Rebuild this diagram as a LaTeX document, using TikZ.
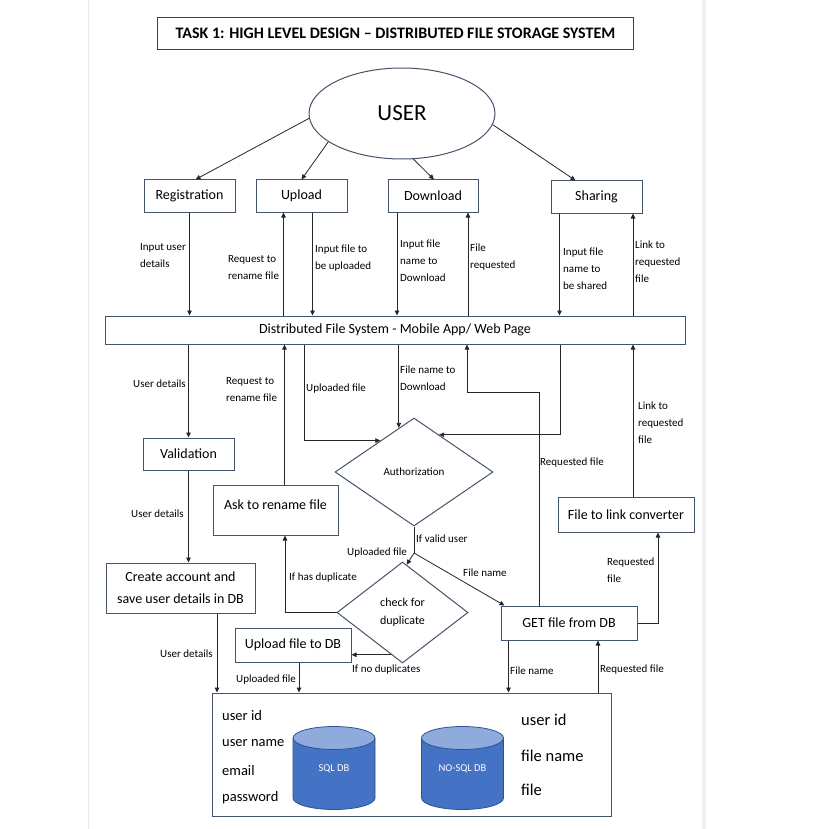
\documentclass[tikz,border=0pt]{standalone}
\usepackage{fontspec}
\setmainfont{Carlito}
\usetikzlibrary{shapes.geometric,arrows.meta}
\definecolor{boxline}{HTML}{44546A}
\definecolor{titleline}{HTML}{404040}
\definecolor{cylbody}{HTML}{4472C4}
\definecolor{cyltop}{HTML}{8FAADC}
\definecolor{cylline}{HTML}{2F528F}
\tikzset{
  box/.style={draw=boxline, line width=1pt, fill=white, align=center, inner sep=2pt,
    font=\fontsize{14}{22}\selectfont},
  lbl/.style={anchor=west, inner sep=0pt, align=left, font=\fontsize{11}{17}\selectfont},
  ln/.style={draw=black!85, line width=0.8pt},
  arr/.style={ln, -{Triangle[length=5pt,width=4.5pt]}},
}
\begin{document}
\begin{tikzpicture}[x=1pt,y=-1pt]
	\useasboundingbox (0,0) rectangle (823,829) ;
	\fill[white] (0,0) rectangle (823,829) ;
	\draw[black!8,line width=0.8pt] (88,0) -- (88,829) ;
	\fill[black!6] (702,0) rectangle (706,829) ;
	% title and user
	\node[draw=titleline, line width=0.8pt, minimum width=476, minimum height=32,
	  font=\fontsize{16}{19}\selectfont\bfseries] (title) at (395.5,33) {TASK 1: HIGH LEVEL DESIGN -- DISTRIBUTED FILE STORAGE SYSTEM} ;
	\node[ellipse, draw=boxline, line width=1pt, minimum width=186, minimum height=91,
	  font=\fontsize{23}{26}\selectfont] (user) at (402,113.5) {USER} ;
	% first row
	\node[box, minimum width=91, minimum height=32] (reg) at (189.5,196) {Registration} ;
	\node[box, minimum width=91, minimum height=32] (upl) at (301.5,196) {Upload} ;
	\node[box, minimum width=90, minimum height=32] (dwn) at (433,196) {Download} ;
	\node[box, minimum width=91, minimum height=32] (shr) at (596.5,197) {Sharing} ;
	\node[box, minimum width=580, minimum height=28] (dfs) at (395,330) {Distributed File System - Mobile App/ Web Page} ;
	% processing
	\node[box, minimum width=91, minimum height=32] (val) at (188.5,454) {Validation} ;
	\node[box, minimum width=125, inner ysep=0pt, text height=24.5pt, text depth=25.5pt] (ask) at (275.5,510) {Ask to rename file} ;
	\node[diamond, draw=boxline, line width=1pt, fill=white, minimum width=158, minimum height=108,
	  inner sep=0pt, font=\fontsize{11}{14}\selectfont] (auth) at (414,472) {Authorization} ;
	\node[box, minimum width=136, minimum height=35] (conv) at (626,514.5) {File to link converter} ;
	\node[box, minimum width=149, minimum height=50] (create) at (180.5,588) {Create account and\\save user details in DB} ;
	\node[diamond, draw=boxline, line width=1pt, fill=white, minimum width=131, minimum height=101,
	  inner sep=0pt, align=center, font=\fontsize{12}{18}\selectfont] (chk) at (402.5,612.5) {check for\\duplicate} ;
	\node[box, minimum width=116, minimum height=34] (upldb) at (293,645) {Upload file to DB} ;
	\node[box, minimum width=136, minimum height=34] (get) at (569,623) {GET file from DB} ;
	% storage
	\node[draw=boxline, line width=1pt, minimum width=399, minimum height=123] (db) at (411.5,754.5) {} ;
	\fill[cylbody] (293,738) -- (293,798) arc[start angle=180,end angle=360,x radius=41pt,y radius=11.5pt] -- (375,738) -- cycle ;
	\draw[cylline,line width=0.8pt] (293,738) -- (293,798) arc[start angle=180,end angle=360,x radius=41pt,y radius=11.5pt] -- (375,738) ;
	\filldraw[fill=cyltop,draw=cylline,line width=0.8pt] (334,738) ellipse[x radius=41pt,y radius=11.5pt] ;
	\fill[cylbody] (421.5,738) -- (421.5,798) arc[start angle=180,end angle=360,x radius=41pt,y radius=11.5pt] -- (503.5,738) -- cycle ;
	\draw[cylline,line width=0.8pt] (421.5,738) -- (421.5,798) arc[start angle=180,end angle=360,x radius=41pt,y radius=11.5pt] -- (503.5,738) ;
	\filldraw[fill=cyltop,draw=cylline,line width=0.8pt] (462.5,738) ellipse[x radius=41pt,y radius=11.5pt] ;
	\node[white, font=\fontsize{10.5}{12}\selectfont] (sqltxt) at (334,769) {SQL DB} ;
	\node[white, font=\fontsize{10.5}{12}\selectfont] (nosqltxt) at (462.5,769) {NO-SQL DB} ;
	\node[lbl, font=\fontsize{14.5}{17}\selectfont] (fuid) at (222,716) {user id} ;
	\node[lbl, font=\fontsize{14.5}{17}\selectfont] (funame) at (222,743) {user name} ;
	\node[lbl, font=\fontsize{14.5}{17}\selectfont] (femail) at (222,771) {email} ;
	\node[lbl, font=\fontsize{14.5}{17}\selectfont] (fpass) at (222,798) {password} ;
	\node[lbl, font=\fontsize{16.5}{19}\selectfont] (guid) at (521,720) {user id} ;
	\node[lbl, font=\fontsize{16.5}{19}\selectfont] (gfname) at (521,756) {file name} ;
	\node[lbl, font=\fontsize{16.5}{19}\selectfont] (gfile) at (521,790) {file} ;
	% x positions of the vertical connectors
	\coordinate (xupA) at (283.5,0) ;
	\coordinate (xupB) at (312.5,0) ;
	\coordinate (xdwA) at (397,0) ;
	\coordinate (xdwB) at (468,0) ;
	\coordinate (xshA) at (559.5,0) ;
	\coordinate (xshB) at (633,0) ;
	\coordinate (xask) at (284.5,0) ;
	\coordinate (xupl) at (304,0) ;
	\coordinate (xshr) at (560,0) ;
	\coordinate (xcre) at (217,0) ;
	\coordinate (xupd) at (299,0) ;
	\coordinate (xgdA) at (508.5,0) ;
	\coordinate (xgdB) at (598,0) ;
	\coordinate (xgcv) at (658,0) ;
	\coordinate (xdup) at (285,0) ;
	\coordinate (kA) at (539,392) ;
	\coordinate (kB) at (467,392) ;
	\coordinate (split) at (414,553) ;
	% user to first row
	\draw[arr] (user.183) -- ([xshift=6pt]reg.north) ;
	\draw[arr] (user.201) -- (upl.north) ;
	\draw[arr] (user.284) -- ([xshift=1pt]dwn.north) ;
	\draw[arr] (user.353) -- ([xshift=-21pt]shr.north) ;
	% first row to web page
	\draw[arr] (reg.south) -- (reg.south |- dfs.north) ;
	\draw[arr] (dfs.north -| xupA) -- (upl.south -| xupA) ;
	\draw[arr] (upl.south -| xupB) -- (dfs.north -| xupB) ;
	\draw[arr] (dwn.south -| xdwA) -- (dfs.north -| xdwA) ;
	\draw[arr] (dfs.north -| xdwB) -- (dwn.south -| xdwB) ;
	\draw[arr] (shr.south -| xshA) -- (dfs.north -| xshA) ;
	\draw[arr] (dfs.north -| xshB) -- (shr.south -| xshB) ;
	\node[lbl] (lInUser) at (140,255.5) {Input user\\details} ;
	\node[lbl] (lReqRenA) at (228,267.5) {Request to\\rename file} ;
	\node[lbl] (lInUp) at (315,258) {Input file to\\be uploaded} ;
	\node[lbl] (lInDwn) at (400,261) {Input file\\name to\\Download} ;
	\node[lbl] (lFileReq) at (470,257) {File\\requested} ;
	\node[lbl] (lInShr) at (563,269) {Input file\\name to\\be shared} ;
	\node[lbl] (lLinkA) at (635,262) {Link to\\requested\\file} ;
	% web page to processing
	\draw[arr] (dfs.south -| val.north) -- (val.north) ;
	\draw[arr] (ask.north -| xask) -- (dfs.south -| xask) ;
	\draw[arr] (dfs.south -| xupl) |- (auth.137) ;
	\draw[arr] (dfs.south -| auth.109) -- (auth.109) ;
	\draw[arr] (dfs.south -| xshr) |- (auth.56) ;
	\draw[arr] (get.north -| kA) -- (kA) -- (kB) -- (dfs.south -| kB) ;
	\draw[arr] (conv.north -| xshB) -- (dfs.south -| xshB) ;
	\node[lbl] (lUsrA) at (133,384) {User details} ;
	\node[lbl] (lReqRenB) at (226,390) {Request to\\rename file} ;
	\node[lbl] (lUpFileA) at (306,389) {Uploaded file} ;
	\node[lbl] (lFnDwn) at (400,378) {File name to\\Download} ;
	\node[lbl] (lLinkB) at (638,422.5) {Link to\\requested\\file} ;
	\node[lbl] (lReqFA) at (540,463) {Requested file} ;
	% checks
	\draw[arr] (val.south) -- (val.south |- create.north) ;
	\draw[ln] (auth.south) -- (split) ;
	\draw[arr] (split) -- (chk.85) ;
	\draw[arr] (split) -- ([xshift=4pt]get.north west) ;
	\draw[arr] (chk.west) -| (ask.south -| xdup) ;
	\draw[arr] (chk.255) -- (chk.255 -| upldb.east) ;
	\draw[arr] (get.east) -| (conv.south -| xgcv) ;
	\node[lbl] (lUsrB) at (131,514) {User details} ;
	\node[lbl] (lValid) at (416,539) {If valid user} ;
	\node[lbl] (lUpFileB) at (347,553) {Uploaded file} ;
	\node[lbl] (lHasDup) at (289,578) {If has duplicate} ;
	\node[lbl] (lFnameA) at (463,573) {File name} ;
	\node[lbl] (lReqFB) at (607,570) {Requested\\file} ;
	% to storage
	\draw[arr] (create.south -| xcre) -- (db.north -| xcre) ;
	\draw[arr] (upldb.south -| xupd) -- (db.north -| xupd) ;
	\draw[arr] (get.south -| xgdA) -- (db.north -| xgdA) ;
	\draw[arr] (db.north -| xgdB) -- (get.south -| xgdB) ;
	\node[lbl] (lUsrC) at (160,654) {User details} ;
	\node[lbl] (lNoDup) at (352,670) {If no duplicates} ;
	\node[lbl] (lUpFileC) at (236,680) {Uploaded file} ;
	\node[lbl] (lFnameB) at (510,671) {File name} ;
	\node[lbl] (lReqFC) at (600,670) {Requested file} ;
\end{tikzpicture}
\end{document}
